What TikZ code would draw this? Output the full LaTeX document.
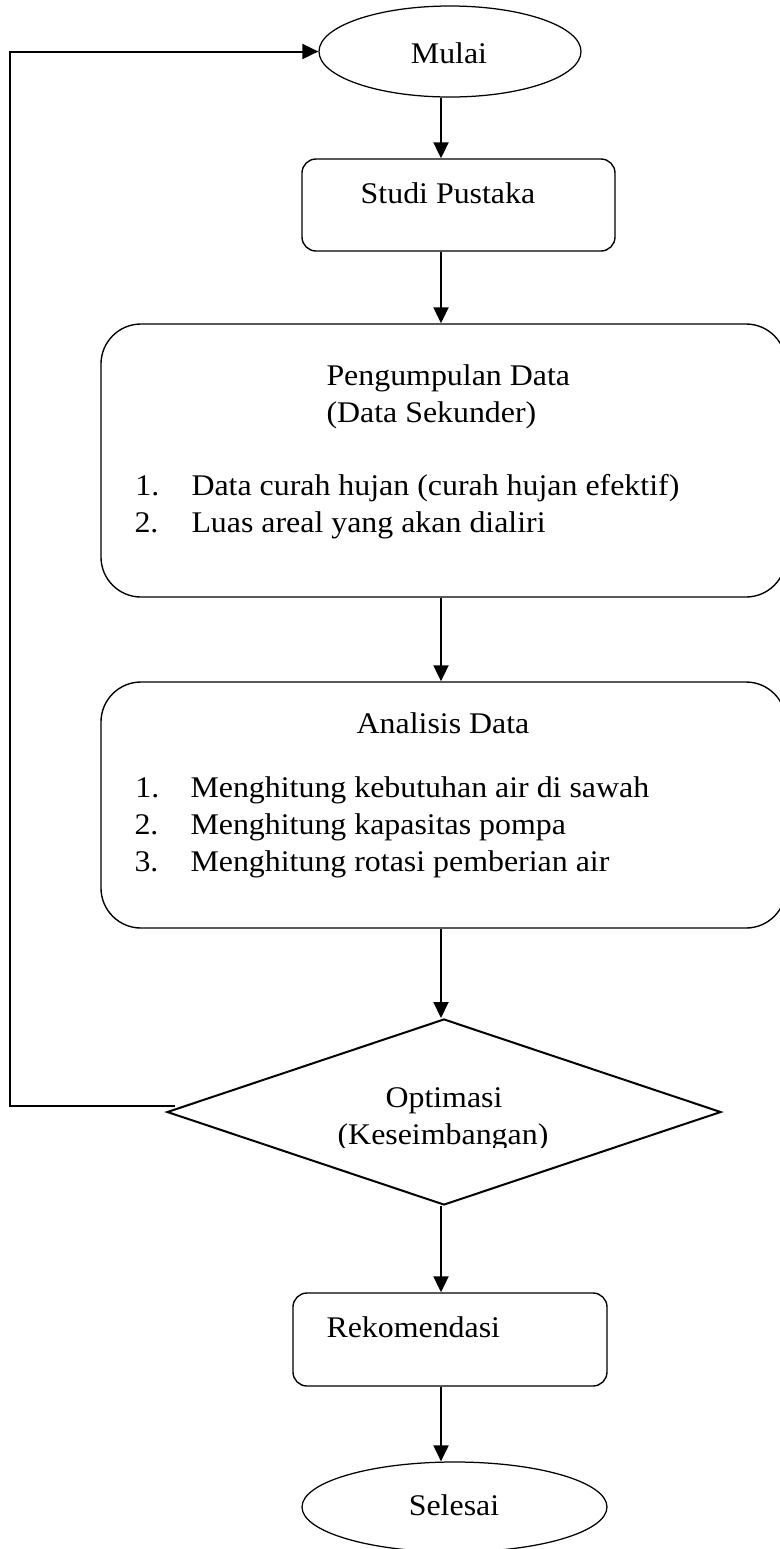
\documentclass[tikz,border=0pt]{standalone}
\usepackage{fontspec}
\setmainfont{Liberation Serif}[FakeStretch=1.063]
\usetikzlibrary{shapes.geometric,arrows.meta}

\begin{document}
\begin{tikzpicture}[
		x=0.4pt,
		y=-0.4pt,
		flow/.style={line width=0.8pt, -{Triangle[length=6.4pt,width=6pt]}},
		box/.style={draw, line width=0.55pt, rounded corners=#1, inner sep=0pt},
		box/.default=5.6pt,
		oval/.style={draw, ellipse, line width=0.5pt, inner sep=0pt},
		txt/.style={inner sep=0pt, font=\fontsize{12pt}{14.8pt}\selectfont}
	]

		\useasboundingbox (0,0) rectangle (780,1549);

		% Shapes
		\node [oval, minimum width=104.8pt, minimum height=36.4pt] (mulai) at (450,51.5) {};
		\node [box, minimum width=125.2pt, minimum height=36.8pt] (studi) at (458.5,205) {};
		\node [box=16pt, minimum width=274pt, minimum height=109.2pt] (peng) at (443.5,460.5) {};
		\node [box=16pt, minimum width=274pt, minimum height=98.4pt] (anal) at (443.5,805) {};
		\node [draw, diamond, line width=0.8pt, inner sep=0pt, aspect=2.98, minimum width=221.6pt, minimum height=74.4pt] (dia) at (444,1112) {};
		\node [box, minimum width=125.6pt, minimum height=37.2pt] (rek) at (450,1339.5) {};
		\node [oval, minimum width=122pt, minimum height=36pt] (selesai) at (454.5,1507) {};

		% Texts
		\node [txt, anchor=base] (mulaiText) at (449,63) {Mulai};
		\node [txt, anchor=base] (studiText) at (448,203) {Studi Pustaka};

		\node [txt, anchor=base west] (pengTitle) at (326,385) {Pengumpulan Data};
		\node [txt, anchor=base west] (pengSub) at (326,422) {(Data Sekunder)};
		\node [txt, anchor=base west] (pengNumA) at (135,495) {1.};
		\node [txt, anchor=base west] (pengItemA) at (191,495) {Data curah hujan (curah hujan efektif)};
		\node [txt, anchor=base west] (pengNumB) at (134,532) {2.};
		\node [txt, anchor=base west] (pengItemB) at (191,532) {Luas areal yang akan dialiri};

		\node [txt, anchor=base] (analTitle) at (443,733) {Analisis Data};
		\node [txt, anchor=base west] (analNumA) at (135,797) {1.};
		\node [txt, anchor=base west] (analItemA) at (190,797) {Menghitung kebutuhan air di sawah};
		\node [txt, anchor=base west] (analNumB) at (134,834) {2.};
		\node [txt, anchor=base west] (analItemB) at (190,834) {Menghitung kapasitas pompa};
		\node [txt, anchor=base west] (analNumC) at (134,871) {3.};
		\node [txt, anchor=base west] (analItemC) at (190,871) {Menghitung rotasi pemberian air};

		\begin{scope}
			\clip (300,1060) rectangle (600,1147);
			\node [txt, anchor=base] (diaTitle) at (444,1107) {Optimasi};
			\node [txt, anchor=base] (diaSub) at (443,1144) {(Keseimbangan)};
		\end{scope}

		\node [txt, anchor=base west] (rekText) at (326,1337) {Rekomendasi};
		\node [txt, anchor=base] (selesaiText) at (454,1515) {Selesai};

		% Connectors
		\coordinate (spine) at (441,0);
		\coordinate (loop) at (10,1106);

		\draw [flow] (mulai.south -| spine) -- (studi.north -| spine);
		\draw [flow] (studi.south -| spine) -- (peng.north -| spine);
		\draw [flow] (peng.south -| spine) -- (anal.north -| spine);
		\draw [flow] (anal.south -| spine) -- (dia.north -| spine);
		\draw [flow] (dia.south -| spine) -- (rek.north -| spine);
		\draw [flow] (rek.south -| spine) -- (selesai.north -| spine);

		% Feedback
		\draw [flow] ([shift={(9,-6)}]dia.west) -- (loop) |- (mulai.west);
	\end{tikzpicture}
\end{document}
